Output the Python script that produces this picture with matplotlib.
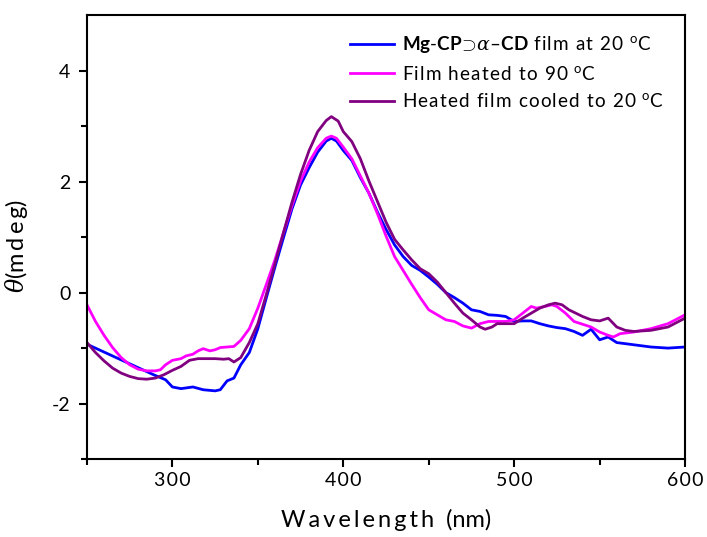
import matplotlib
matplotlib.use("Agg")
import matplotlib.pyplot as plt
import numpy as np

plt.rcParams['font.family'] = ['Lato', 'DejaVu Sans']
plt.rcParams['mathtext.fontset'] = 'custom'
plt.rcParams['mathtext.rm'] = 'Lato'
plt.rcParams['mathtext.bf'] = 'Lato:bold'
plt.rcParams['mathtext.it'] = 'DejaVu Serif:italic'

wl_blue = [250, 289, 296, 300, 305, 312, 318, 325, 328, 332, 336, 340, 345, 350, 355, 360, 365, 370, 375, 380, 385, 390, 393, 396, 400,
           405, 410, 415, 420, 425, 430, 435, 440, 445, 450, 455, 460, 465, 470, 475, 480, 485, 490, 495, 500, 505, 510, 515,
           520, 525, 530, 535, 540, 545, 550, 555, 560, 570, 580, 590, 600]
val_blue = [-0.93, -1.48, -1.57, -1.70, -1.73, -1.70, -1.75, -1.77, -1.75, -1.59, -1.54, -1.30, -1.08, -0.65, -0.09, 0.46, 0.99, 1.51,
            1.94, 2.25, 2.53, 2.73, 2.78, 2.73, 2.56, 2.38, 2.07, 1.79, 1.45, 1.14, 0.86, 0.65, 0.49, 0.40, 0.28, 0.15, 0.0,
            -0.09, -0.19, -0.31, -0.34, -0.40, -0.41, -0.43, -0.52, -0.51, -0.51, -0.56, -0.60, -0.63, -0.65, -0.70, -0.77,
            -0.66, -0.85, -0.80, -0.90, -0.94, -0.98, -1.00, -0.98]

wl_mag = [250, 255, 260, 265, 270, 275, 280, 285, 290, 293, 296, 300, 305, 308, 312, 315, 318, 322, 325, 328, 332, 336, 340, 345,
          350, 355, 360, 365, 370, 375, 380, 385, 390, 393, 396, 400, 405, 410, 415, 420, 425, 430, 435, 440, 445, 450, 455,
          460, 465, 470, 475, 480, 485, 490, 495, 500, 505, 510, 513, 518, 522, 525, 530, 535, 540, 545, 550, 555, 558, 562,
          570, 580, 590, 600]
val_mag = [-0.22, -0.52, -0.77, -0.99, -1.17, -1.30, -1.38, -1.41, -1.41, -1.39, -1.30, -1.22, -1.19, -1.14, -1.11, -1.05, -1.01,
           -1.05, -1.03, -0.99, -0.98, -0.97, -0.86, -0.65, -0.28, 0.15, 0.59, 1.08, 1.57, 2.01, 2.35, 2.61, 2.78, 2.82, 2.78,
           2.62, 2.41, 2.10, 1.79, 1.42, 1.02, 0.65, 0.40, 0.15, -0.09, -0.31, -0.40, -0.49, -0.52, -0.60, -0.64, -0.56, -0.52,
           -0.52, -0.52, -0.49, -0.37, -0.25, -0.28, -0.25, -0.22, -0.25, -0.37, -0.52, -0.57, -0.62, -0.71, -0.77, -0.80,
           -0.74, -0.71, -0.65, -0.56, -0.40]

wl_pur = [250, 255, 260, 265, 270, 275, 280, 285, 290, 295, 300, 305, 310, 315, 320, 325, 330, 333, 336, 340, 345, 350, 355, 360,
          365, 370, 375, 380, 385, 390, 393, 397, 400, 405, 410, 415, 420, 425, 430, 435, 440, 445, 450, 455, 460, 465, 470,
          475, 480, 483, 487, 490, 495, 500, 505, 510, 515, 520, 524, 528, 532, 540, 545, 550, 555, 560, 565, 570, 580, 590, 600]
val_pur = [-0.90, -1.08, -1.23, -1.36, -1.45, -1.51, -1.55, -1.56, -1.54, -1.48, -1.40, -1.33, -1.22, -1.19, -1.19, -1.19, -1.20,
           -1.19, -1.25, -1.17, -0.90, -0.56, -0.03, 0.52, 1.08, 1.63, 2.13, 2.56, 2.90, 3.10, 3.17, 3.09, 2.90, 2.72, 2.41,
           2.01, 1.64, 1.27, 0.96, 0.77, 0.59, 0.43, 0.34, 0.19, 0.0, -0.19, -0.37, -0.49, -0.62, -0.66, -0.62, -0.56, -0.56,
           -0.56, -0.46, -0.37, -0.28, -0.22, -0.19, -0.22, -0.31, -0.43, -0.49, -0.51, -0.46, -0.62, -0.68, -0.70, -0.68,
           -0.62, -0.46]

x_major = [300, 400, 500, 600]
y_major = [-2, 0, 2, 4]

HS = '\u200a'


def sp(s):
    return HS.join(s)


deg = r"$^{\rm o}$C"
labels = [r"$\mathbf{Mg\text{-}CP}\!\supset\!\mathit{\alpha}\mathbf{\text{–}CD}$" + sp(" film at 20 ") + deg,
          sp("Film heated to 90 ") + deg,
          sp("Heated film cooled to 20 ") + deg]
colors = ['#0000ff', '#ff00ff', '#800080']

fig = plt.figure(figsize=(7.07, 5.37), dpi=100)
ax = fig.add_axes([0.123, 0.145, 0.846, 0.827])

ax.plot(wl_blue, val_blue, color=colors[0], lw=2, label=labels[0])
ax.plot(wl_mag, val_mag, color=colors[1], lw=2, label=labels[1])
ax.plot(wl_pur, val_pur, color=colors[2], lw=2, label=labels[2])

ax.set_xlim(250, 600)
ax.set_ylim(-3, 5)
ax.set_xticks(x_major)
ax.set_xticklabels([sp(str(v)) for v in x_major])
ax.set_xticks([250, 350, 450, 550], minor=True)
ax.set_yticks(y_major)
ax.set_yticklabels([str(v) for v in y_major])
ax.set_yticks([-3, -1, 1, 3], minor=True)
ax.tick_params(which='major', length=6, width=1.5, labelsize=14, direction='out')
ax.tick_params(axis='y', which='major', pad=6)
ax.tick_params(which='minor', length=4, width=1.5, direction='out')
for s in ax.spines.values():
    s.set_linewidth(1.5)

ax.set_xlabel("\u2009".join("Wavelength") + "  (nm)", fontsize=17, labelpad=14)
ax.set_ylabel(r"$\mathit{\theta}$" + "(" + "\u2009".join("mdeg") + ")", fontsize=17, labelpad=6)
ax.yaxis.set_label_coords(-0.095, 0.48)

leg = ax.legend(loc='upper right', bbox_to_anchor=(0.993, 0.995), frameon=False, fontsize=13.6,
                handlelength=2.3, handletextpad=0.45, labelspacing=0.5)

fig.savefig("out.png", dpi=100)
